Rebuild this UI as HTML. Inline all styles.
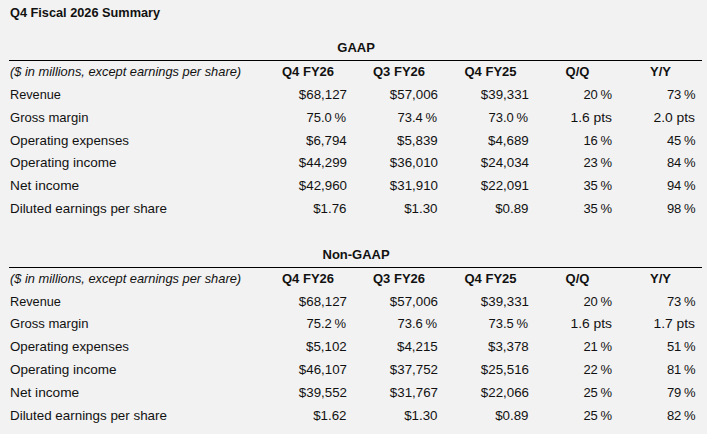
<!DOCTYPE html>
<html><head><meta charset="utf-8"><style>
html,body{margin:0;padding:0;}
body{width:707px;height:434px;background:#f2f2f2;position:relative;overflow:hidden;font-family:"Liberation Sans",sans-serif;font-size:13px;color:#111;}
.t{position:absolute;line-height:20px;white-space:nowrap;transform-origin:0 50%;}
.r{transform-origin:100% 50%;}
.b{font-weight:bold;}
.i{font-style:italic;}
.c{text-align:center;}
.line{position:absolute;left:9px;width:693px;height:1px;background:#000;}
</style></head><body>
<div class="t b" style="top:2.50px;left:9.5px;transform:scaleX(0.9800);">Q4 Fiscal 2026 Summary</div>
<div class="t b c" style="left:9.6px;width:693px;top:37.50px">GAAP</div>
<div class="line" style="top:60px"></div>
<div class="t i" style="top:61.50px;left:9.5px;transform:scaleX(0.9870);">($ in millions, except earnings per share)</div>
<div class="t b" style="top:61.50px;left:282px;">Q4 FY26</div>
<div class="t b" style="top:61.50px;left:373px;">Q3 FY26</div>
<div class="t b" style="top:61.50px;left:464.5px;">Q4 FY25</div>
<div class="t b" style="top:61.50px;left:565.6px;">Q/Q</div>
<div class="t b" style="top:61.50px;left:650px;">Y/Y</div>
<div class="t " style="top:84.50px;left:9.7px;transform:scaleX(0.9780);">Revenue</div>
<div class="t r " style="top:84.50px;right:360.4px;transform:scaleX(1.0250);">$68,127</div>
<div class="t r " style="top:84.50px;right:269.4px;transform:scaleX(1.0250);">$57,006</div>
<div class="t r " style="top:84.50px;right:178.39999999999998px;transform:scaleX(1.0250);">$39,331</div>
<div class="t r " style="top:84.50px;right:95px;">20&#8201;%</div>
<div class="t r " style="top:84.50px;right:11.5px;">73&#8201;%</div>
<div class="t " style="top:107.50px;left:9.7px;transform:scaleX(1.0050);">Gross margin</div>
<div class="t r " style="top:107.50px;right:361px;">75.0&#8201;%</div>
<div class="t r " style="top:107.50px;right:270px;">73.4&#8201;%</div>
<div class="t r " style="top:107.50px;right:179px;">73.0&#8201;%</div>
<div class="t r " style="top:107.50px;right:95px;transform:scaleX(1.0650);">1.6 pts</div>
<div class="t r " style="top:107.50px;right:11.5px;transform:scaleX(1.0650);">2.0 pts</div>
<div class="t " style="top:130.50px;left:9.7px;transform:scaleX(1.0220);">Operating expenses</div>
<div class="t r " style="top:130.50px;right:360.4px;transform:scaleX(1.0250);">$6,794</div>
<div class="t r " style="top:130.50px;right:269.4px;transform:scaleX(1.0250);">$5,839</div>
<div class="t r " style="top:130.50px;right:178.39999999999998px;transform:scaleX(1.0250);">$4,689</div>
<div class="t r " style="top:130.50px;right:95px;">16&#8201;%</div>
<div class="t r " style="top:130.50px;right:11.5px;">45&#8201;%</div>
<div class="t " style="top:152.50px;left:9.7px;transform:scaleX(1.0390);">Operating income</div>
<div class="t r " style="top:152.50px;right:360.4px;transform:scaleX(1.0250);">$44,299</div>
<div class="t r " style="top:152.50px;right:269.4px;transform:scaleX(1.0250);">$36,010</div>
<div class="t r " style="top:152.50px;right:178.39999999999998px;transform:scaleX(1.0250);">$24,034</div>
<div class="t r " style="top:152.50px;right:95px;">23&#8201;%</div>
<div class="t r " style="top:152.50px;right:11.5px;">84&#8201;%</div>
<div class="t " style="top:175.50px;left:9.7px;transform:scaleX(1.0530);">Net income</div>
<div class="t r " style="top:175.50px;right:360.4px;transform:scaleX(1.0250);">$42,960</div>
<div class="t r " style="top:175.50px;right:269.4px;transform:scaleX(1.0250);">$31,910</div>
<div class="t r " style="top:175.50px;right:178.39999999999998px;transform:scaleX(1.0250);">$22,091</div>
<div class="t r " style="top:175.50px;right:95px;">35&#8201;%</div>
<div class="t r " style="top:175.50px;right:11.5px;">94&#8201;%</div>
<div class="t " style="top:198.50px;left:9.7px;transform:scaleX(1.0290);">Diluted earnings per share</div>
<div class="t r " style="top:198.50px;right:360.4px;transform:scaleX(1.0250);">$1.76</div>
<div class="t r " style="top:198.50px;right:269.4px;transform:scaleX(1.0250);">$1.30</div>
<div class="t r " style="top:198.50px;right:178.39999999999998px;transform:scaleX(1.0250);">$0.89</div>
<div class="t r " style="top:198.50px;right:95px;">35&#8201;%</div>
<div class="t r " style="top:198.50px;right:11.5px;">98&#8201;%</div>
<div class="t b c" style="left:9.6px;width:693px;top:244.50px">Non-GAAP</div>
<div class="line" style="top:267px"></div>
<div class="t i" style="top:268.50px;left:9.5px;transform:scaleX(0.9870);">($ in millions, except earnings per share)</div>
<div class="t b" style="top:268.50px;left:282px;">Q4 FY26</div>
<div class="t b" style="top:268.50px;left:373px;">Q3 FY26</div>
<div class="t b" style="top:268.50px;left:464.5px;">Q4 FY25</div>
<div class="t b" style="top:268.50px;left:565.6px;">Q/Q</div>
<div class="t b" style="top:268.50px;left:650px;">Y/Y</div>
<div class="t " style="top:291.50px;left:9.7px;transform:scaleX(0.9780);">Revenue</div>
<div class="t r " style="top:291.50px;right:360.4px;transform:scaleX(1.0250);">$68,127</div>
<div class="t r " style="top:291.50px;right:269.4px;transform:scaleX(1.0250);">$57,006</div>
<div class="t r " style="top:291.50px;right:178.39999999999998px;transform:scaleX(1.0250);">$39,331</div>
<div class="t r " style="top:291.50px;right:95px;">20&#8201;%</div>
<div class="t r " style="top:291.50px;right:11.5px;">73&#8201;%</div>
<div class="t " style="top:313.50px;left:9.7px;transform:scaleX(1.0050);">Gross margin</div>
<div class="t r " style="top:313.50px;right:361px;">75.2&#8201;%</div>
<div class="t r " style="top:313.50px;right:270px;">73.6&#8201;%</div>
<div class="t r " style="top:313.50px;right:179px;">73.5&#8201;%</div>
<div class="t r " style="top:313.50px;right:95px;transform:scaleX(1.0650);">1.6 pts</div>
<div class="t r " style="top:313.50px;right:11.5px;transform:scaleX(1.0650);">1.7 pts</div>
<div class="t " style="top:336.50px;left:9.7px;transform:scaleX(1.0220);">Operating expenses</div>
<div class="t r " style="top:336.50px;right:360.4px;transform:scaleX(1.0250);">$5,102</div>
<div class="t r " style="top:336.50px;right:269.4px;transform:scaleX(1.0250);">$4,215</div>
<div class="t r " style="top:336.50px;right:178.39999999999998px;transform:scaleX(1.0250);">$3,378</div>
<div class="t r " style="top:336.50px;right:95px;">21&#8201;%</div>
<div class="t r " style="top:336.50px;right:11.5px;">51&#8201;%</div>
<div class="t " style="top:359.50px;left:9.7px;transform:scaleX(1.0390);">Operating income</div>
<div class="t r " style="top:359.50px;right:360.4px;transform:scaleX(1.0250);">$46,107</div>
<div class="t r " style="top:359.50px;right:269.4px;transform:scaleX(1.0250);">$37,752</div>
<div class="t r " style="top:359.50px;right:178.39999999999998px;transform:scaleX(1.0250);">$25,516</div>
<div class="t r " style="top:359.50px;right:95px;">22&#8201;%</div>
<div class="t r " style="top:359.50px;right:11.5px;">81&#8201;%</div>
<div class="t " style="top:382.50px;left:9.7px;transform:scaleX(1.0530);">Net income</div>
<div class="t r " style="top:382.50px;right:360.4px;transform:scaleX(1.0250);">$39,552</div>
<div class="t r " style="top:382.50px;right:269.4px;transform:scaleX(1.0250);">$31,767</div>
<div class="t r " style="top:382.50px;right:178.39999999999998px;transform:scaleX(1.0250);">$22,066</div>
<div class="t r " style="top:382.50px;right:95px;">25&#8201;%</div>
<div class="t r " style="top:382.50px;right:11.5px;">79&#8201;%</div>
<div class="t " style="top:405.50px;left:9.7px;transform:scaleX(1.0290);">Diluted earnings per share</div>
<div class="t r " style="top:405.50px;right:360.4px;transform:scaleX(1.0250);">$1.62</div>
<div class="t r " style="top:405.50px;right:269.4px;transform:scaleX(1.0250);">$1.30</div>
<div class="t r " style="top:405.50px;right:178.39999999999998px;transform:scaleX(1.0250);">$0.89</div>
<div class="t r " style="top:405.50px;right:95px;">25&#8201;%</div>
<div class="t r " style="top:405.50px;right:11.5px;">82&#8201;%</div>
</body></html>
